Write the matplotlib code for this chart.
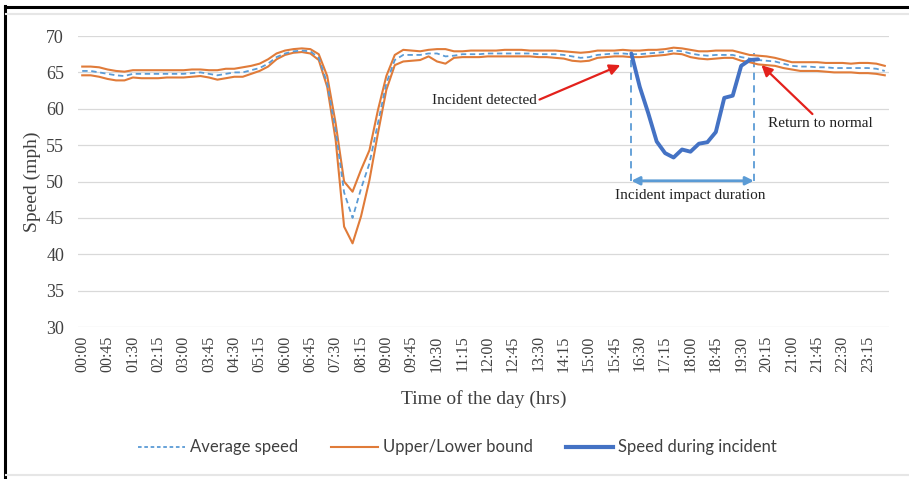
import numpy as np
import matplotlib
matplotlib.use("Agg")
import matplotlib.pyplot as plt
from matplotlib.lines import Line2D

# ---------------- data ----------------
times = ["%02d:%02d" % (h, m) for h in range(24) for m in (0, 15, 30, 45)]
tick_labels = times[::3]

upper = [65.8, 65.8, 65.7, 65.4, 65.2, 65.1, 65.3, 65.3, 65.3, 65.3, 65.3, 65.3,
         65.3, 65.4, 65.4, 65.3, 65.3, 65.5, 65.5, 65.7, 65.9, 66.2, 66.8, 67.6,
         68.0, 68.2, 68.3, 68.2, 67.5, 64.5, 58.0, 50.0, 48.6, 51.6, 54.3, 59.8,
         64.5, 67.4, 68.1, 68.0, 67.9, 68.1, 68.2, 68.2, 67.9, 67.9, 68.0, 68.0,
         68.0, 68.0, 68.1, 68.1, 68.1, 68.0, 68.0, 68.0, 68.0, 67.9, 67.8, 67.7,
         67.8, 68.0, 68.0, 68.0, 68.1, 68.0, 68.0, 68.1, 68.1, 68.2, 68.4, 68.3,
         68.1, 67.9, 67.9, 68.0, 68.0, 68.0, 67.7, 67.4, 67.3, 67.2, 67.0, 66.7,
         66.4, 66.4, 66.4, 66.4, 66.3, 66.3, 66.3, 66.2, 66.3, 66.3, 66.2, 65.9]

average = [65.2, 65.2, 65.0, 64.8, 64.6, 64.5, 64.8, 64.8, 64.8, 64.8, 64.8, 64.8,
           64.8, 64.9, 65.0, 64.8, 64.6, 64.8, 65.0, 65.0, 65.3, 65.6, 66.2, 67.1,
           67.6, 67.9, 68.0, 67.9, 67.0, 63.5, 57.0, 48.5, 45.0, 49.0, 52.5, 58.0,
           63.5, 66.7, 67.4, 67.4, 67.4, 67.6, 67.6, 67.2, 67.3, 67.5, 67.5, 67.5,
           67.6, 67.6, 67.6, 67.6, 67.6, 67.6, 67.5, 67.5, 67.5, 67.4, 67.2, 67.0,
           67.1, 67.4, 67.5, 67.6, 67.6, 67.5, 67.5, 67.6, 67.7, 67.8, 68.0, 67.9,
           67.6, 67.4, 67.3, 67.4, 67.4, 67.4, 67.1, 66.9, 66.7, 66.6, 66.5, 66.2,
           65.9, 65.8, 65.8, 65.7, 65.7, 65.6, 65.6, 65.6, 65.6, 65.6, 65.5, 65.2]

lower = [64.6, 64.6, 64.4, 64.1, 63.9, 63.9, 64.3, 64.2, 64.2, 64.2, 64.3, 64.3,
         64.3, 64.4, 64.5, 64.3, 64.0, 64.2, 64.4, 64.4, 64.8, 65.2, 65.8, 66.8,
         67.4, 67.7, 67.8, 67.6, 66.7, 63.0, 55.7, 43.8, 41.5, 45.2, 50.2, 56.6,
         62.6, 66.0, 66.5, 66.6, 66.7, 67.2, 66.5, 66.2, 67.0, 67.1, 67.1, 67.1,
         67.2, 67.2, 67.2, 67.2, 67.2, 67.2, 67.1, 67.1, 67.0, 66.9, 66.6, 66.5,
         66.6, 67.0, 67.1, 67.2, 67.2, 67.1, 67.1, 67.2, 67.3, 67.4, 67.6, 67.5,
         67.1, 66.9, 66.8, 66.9, 67.0, 67.0, 66.6, 66.4, 66.1, 66.0, 65.9, 65.6,
         65.4, 65.2, 65.2, 65.2, 65.1, 65.0, 65.0, 65.0, 64.9, 64.9, 64.8, 64.6]

incident_start = "16:15"
incident_speed = [67.6, 63.0, 59.4, 55.5, 53.9, 53.3, 54.4, 54.1, 55.2, 55.4,
                  56.8, 61.5, 61.8, 65.9, 66.7, 66.8]

# ---------------- styling ----------------
ORANGE = "#E07B39"
LBLUE = "#5B9BD5"
DBLUE = "#4472C4"
RED = "#E3211C"
GRID = "#D9D9D9"
TXT = "#404040"
SERIF = ["Liberation Serif", "DejaVu Serif"]
SANS = ["Lato", "DejaVu Sans"]

fig = plt.figure(figsize=(9.09, 4.79), dpi=100)
ax = fig.add_axes([0.0858, 0.3173, 0.8922, 0.6075])

x = np.arange(len(times))
i0 = times.index(incident_start)
xi = np.arange(i0, i0 + len(incident_speed))

ax.plot(x, upper, color=ORANGE, lw=1.5, zorder=3)
ax.plot(x, lower, color=ORANGE, lw=1.5, zorder=3)
ax.plot(x, average, color=LBLUE, lw=1.3, ls=(0, (3, 2)), zorder=4)
ax.plot(xi, incident_speed, color=DBLUE, lw=2.8, zorder=5,
        solid_joinstyle="round", solid_capstyle="round")

ax.set_xlim(-0.5, len(times) - 0.5)
ax.set_ylim(30, 70)
ax.set_yticks(np.arange(30, 71, 5))
ax.yaxis.grid(True, color=GRID, lw=0.9)
ax.set_axisbelow(True)
ax.set_xticks(x[::3])
ax.set_xticklabels(tick_labels, rotation=90, fontfamily=SERIF, fontsize=11.5, color=TXT)
for lab in ax.get_yticklabels():
    lab.set_fontfamily(SERIF)
    lab.set_fontsize(13)
    lab.set_color(TXT)
ax.tick_params(axis="both", length=0)
ax.tick_params(axis="y", pad=10)
ax.tick_params(axis="x", pad=6)
for s in ax.spines.values():
    s.set_visible(False)

ax.set_xlabel("Time of the day (hrs)", fontfamily=SERIF, fontsize=14, color=TXT, labelpad=13)
ax.set_ylabel("Speed (mph)", fontfamily=SERIF, fontsize=14, color=TXT, labelpad=4)

# incident duration markers
xs, xe = xi[0], xi[-1]
ax.vlines([xs, xe - 0.5], 50.1, 67.7, colors=LBLUE, linestyles=(0, (4, 3)), lw=1.3, zorder=2)
ax.annotate("", xy=(xe - 0.5, 50.1), xytext=(xs, 50.1),
            arrowprops=dict(arrowstyle="<|-|>", color=LBLUE, lw=2.0,
                            mutation_scale=12, shrinkA=0, shrinkB=0))
ax.text((xs + xe) / 2 - 0.5, 48.1, "Incident impact duration", ha="center", va="center",
        fontfamily=SERIF, fontsize=11, color="#202020")

ax.annotate("Incident detected", xy=(63.7, 66.0), xytext=(47.6, 61.1),
            ha="center", va="center", fontfamily=SERIF, fontsize=11, color="#202020",
            arrowprops=dict(arrowstyle="-|>", color=RED, lw=1.6, mutation_scale=16,
                            shrinkA=0, shrinkB=0, relpos=(1.0, 0.5)))
ax.annotate("Return to normal", xy=(80.4, 66.0), xytext=(87.4, 58.0),
            ha="center", va="center", fontfamily=SERIF, fontsize=11, color="#202020",
            arrowprops=dict(arrowstyle="-|>", color=RED, lw=1.6, mutation_scale=16,
                            shrinkA=0, shrinkB=0, relpos=(0.45, 1.0)))

handles = [Line2D([], [], color=LBLUE, lw=1.3, ls=(0, (2, 1.5))),
           Line2D([], [], color=ORANGE, lw=1.5),
           Line2D([], [], color=DBLUE, lw=3.0)]
fig.legend(handles, ["Average speed", "Upper/Lower bound", "Speed during incident"],
           loc="center", bbox_to_anchor=(0.503, 0.066), ncol=3, frameon=False,
           prop={"family": SANS, "size": 12}, handlelength=2.8, handletextpad=0.3,
           columnspacing=2.0, labelcolor=TXT)

# image frame
W, H = 909.0, 479.0
fig.add_artist(Line2D([5 / W, 1], [1 - 6.5 / H, 1 - 6.5 / H], color="black", lw=2.2,
                      transform=fig.transFigure))
fig.add_artist(Line2D([5 / W, 5 / W], [0, 1 - 6 / H], color="black", lw=2.2,
                      transform=fig.transFigure))
fig.add_artist(Line2D([6 / W, 1], [1 - 14 / H, 1 - 14 / H], color="#E6E6E6", lw=1.5,
                      transform=fig.transFigure))
fig.add_artist(Line2D([6 / W, 1], [1 - 475 / H, 1 - 475 / H], color="#E6E6E6", lw=1.5,
                      transform=fig.transFigure))

fig.savefig("out.png", dpi=100)
